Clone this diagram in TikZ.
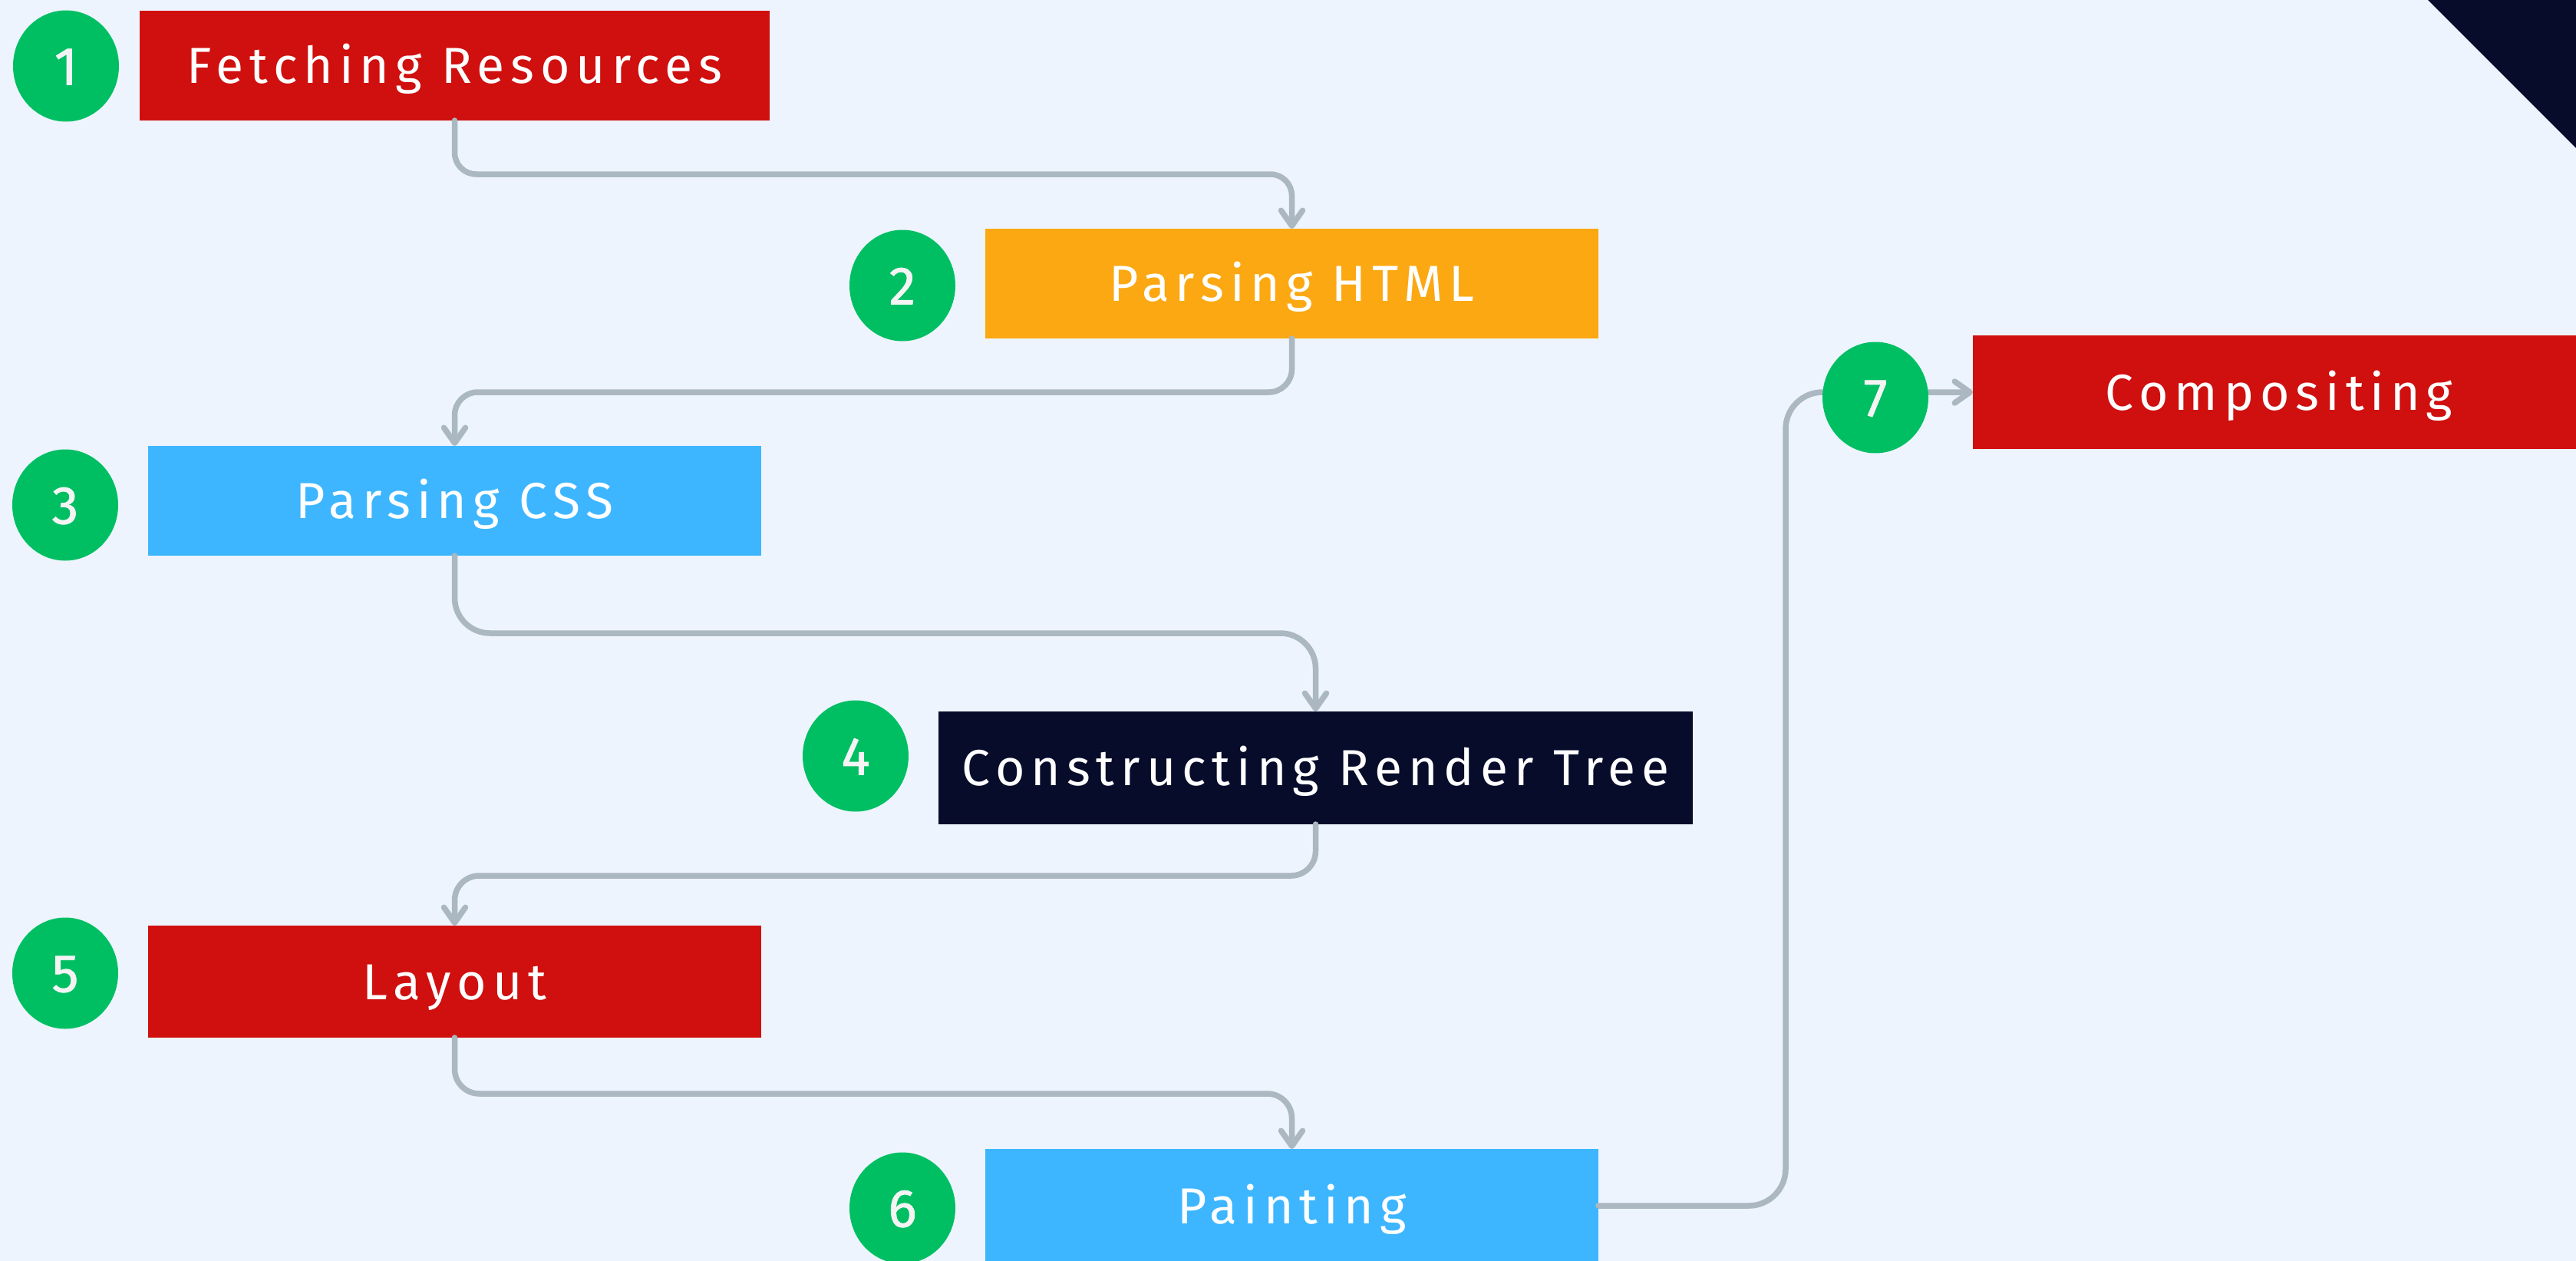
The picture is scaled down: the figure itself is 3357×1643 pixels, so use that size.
\documentclass[tikz,border=0pt]{standalone}
\usepackage{fontspec}
\usetikzlibrary{arrows.meta,shapes.geometric}
\newfontfamily\labfont{Fira Sans}[LetterSpace=12]
\newfontfamily\numfont{Fira Sans}[FakeBold=1]
\definecolor{bgc}{HTML}{EDF4FD}
\definecolor{cred}{HTML}{D00F0F}
\definecolor{corange}{HTML}{FBA812}
\definecolor{cblue}{HTML}{3DB6FF}
\definecolor{cnavy}{HTML}{070C2B}
\definecolor{cgreen}{HTML}{00BF63}
\definecolor{cline}{HTML}{ABB8C1}
\definecolor{cdigit}{HTML}{F4F4F4}
\tikzset{
  stepbox/.style={draw=none, rectangle, inner sep=0pt, outer sep=0pt,
    minimum height=143pt, minimum width=799pt, text=white,
    font=\labfont\fontsize{66}{66}\selectfont, text height=46pt, text depth=0pt},
  numdot/.style={ellipse, fill=cgreen, inner sep=0pt, outer sep=0pt,
    minimum width=138pt, minimum height=145pt, text=cdigit,
    font=\numfont\fontsize{70}{70}\selectfont, text height=49pt, text depth=0pt},
  conn/.style={draw=cline, line width=7.5pt, line cap=round, line join=round},
  tip/.style={-{Straight Barb[length=20pt,width=28pt,round]}}
}
\begin{document}
\begin{tikzpicture}[x=1pt,y=-1pt]
\clip (0,0) rectangle (3357,1643);
\fill[bgc] (0,0) rectangle (3357,1643);
\fill[cnavy] (3164,0) -- (3357,0) -- (3357,193) -- cycle;

% levels of the connectors
\coordinate (h12) at (0,227);
\coordinate (h23) at (0,511);
\coordinate (h34) at (0,825);
\coordinate (h45) at (0,1141);
\coordinate (h56) at (0,1425);
\coordinate (v67) at (2327,0);

% boxes
\node[stepbox, fill=cred, minimum width=821pt] (b1) at (592.5,85.5) {Fetching Resources};
\node[stepbox, fill=corange] (b2) at (1683.5,369.5) {Parsing HTML};
\node[stepbox, fill=cblue] (b3) at (592.5,652.5) {Parsing CSS};
\node[stepbox, fill=cnavy, minimum width=983pt, minimum height=147pt] (b4) at (1714.5,1000.5) {Constructing Render Tree};
\node[stepbox, fill=cred, minimum height=146pt] (b5) at (592.5,1279) {Layout};
\node[stepbox, fill=cblue, minimum height=148pt] (b6) at (1683.5,1571) {Painting};
\node[stepbox, fill=cred, minimum width=798pt, minimum height=148pt] (b7) at (2970,511) {Compositing};

% connectors
\draw[conn, tip, rounded corners=28pt] (b1.south) -- (b1.south |- h12) -- (b2.north |- h12) -- (b2.north);
\draw[conn, tip, rounded corners=30pt] (b2.south) -- (b2.south |- h23) -- (b3.north |- h23) -- (b3.north);
\draw[conn, tip, rounded corners=46pt] (b3.south) -- (b3.south |- h34) -- (b4.north |- h34) -- (b4.north);
\draw[conn, tip, rounded corners=32pt] (b4.south) -- (b4.south |- h45) -- (b5.north |- h45) -- (b5.north);
\draw[conn, tip, rounded corners=32pt] (b5.south) -- (b5.south |- h56) -- (b6.north |- h56) -- (b6.north);
\draw[conn, tip, rounded corners=48pt] (b6.east) -- (v67 |- b6.east) -- (v67 |- b7.west) -- (b7.west);

% numbered dots
\node[numdot] (n1) at (86,86) {1};
\node[numdot] (n2) at (1176,372) {2};
\node[numdot] (n3) at (85,658) {3};
\node[numdot] (n4) at (1115,985) {4};
\node[numdot] (n5) at (85,1268) {5};
\node[numdot] (n6) at (1176,1574) {6};
\node[numdot] (n7) at (2444,518) {7};
\end{tikzpicture}
\end{document}
